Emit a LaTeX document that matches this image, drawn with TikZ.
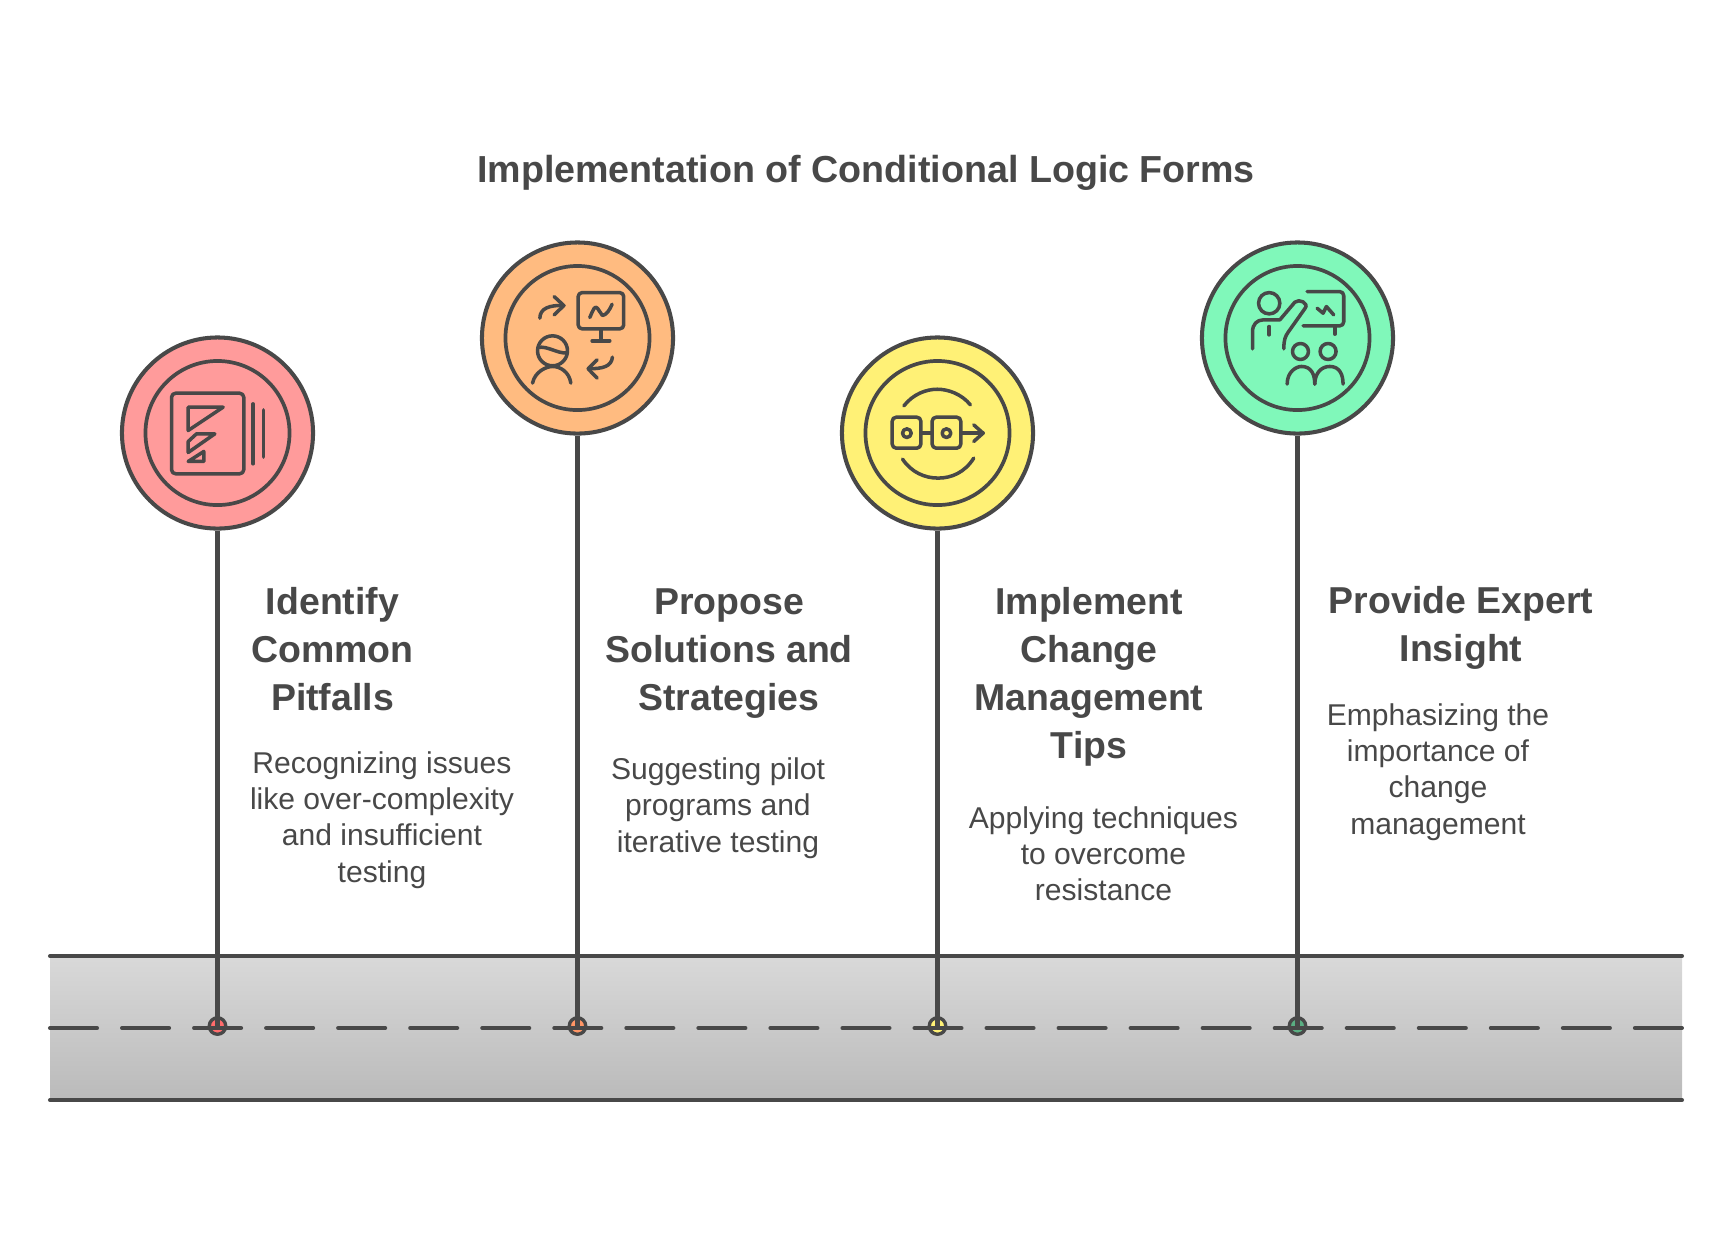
\documentclass[tikz,border=0pt]{standalone}
\usepackage{fontspec}
\setmainfont{Liberation Sans}
\usepackage{tikz}
\usetikzlibrary{shapes,positioning,fit}
\definecolor{ink}{HTML}{484848}
\definecolor{redf}{HTML}{FF9B9B}
\definecolor{orangef}{HTML}{FFBB80}
\definecolor{yellowf}{HTML}{FFF176}
\definecolor{greenf}{HTML}{80F8BA}
\tikzset{
    outerdisc/.style={circle, draw=ink, line width=1.15pt, minimum size=1.91cm, inner sep=0pt},
    innerdisc/.style={circle, draw=ink, line width=1.05pt, minimum size=1.44cm, inner sep=0pt},
    dotdisc/.style={circle, draw=ink, line width=0.95pt, minimum size=0.165cm, inner sep=0pt},
    wire/.style={draw=ink, line width=1.15pt},
    road/.style={draw=ink, line width=1.15pt, line cap=round},
    icon/.style={draw=ink, line width=1pt, line cap=round, line join=round},
    zoomed/.style={x=0.003333cm, y=-0.003333cm},
    titletext/.style={text=ink, align=center, font=\fontsize{10.7pt}{13pt}\selectfont\bfseries},
    headtext/.style={text=ink, align=center, font=\fontsize{10.65pt}{13.65pt}\selectfont\bfseries},
    bodytext/.style={text=ink, align=center, font=\fontsize{8.55pt}{10.3pt}\selectfont}
}

\begin{document}
\begin{tikzpicture}[x=0.01cm, y=-0.01cm]
        \useasboundingbox (0, 0) rectangle (1732, 1253);
        \node [titletext] (TT) at (866, 173) {Implementation of Conditional Logic Forms};
        \coordinate (LT) at (50, 956);
        \coordinate (RT) at (1682, 956);
        \coordinate (LM) at (50, 1028);
        \coordinate (RM) at (1682, 1028);
        \coordinate (LB) at (50, 1100);
        \coordinate (RB) at (1682, 1100);
        \shade [top color=black!15, bottom color=black!27] (LT) rectangle (RB);
        \node [outerdisc, fill=redf]    (CA) at (217.5, 433) {};
        \node [outerdisc, fill=orangef] (CB) at (577.5, 338) {};
        \node [outerdisc, fill=yellowf] (CC) at (937.5, 433) {};
        \node [outerdisc, fill=greenf]  (CD) at (1297.5, 338) {};
        \node [innerdisc] (IA) at (CA) {};
        \node [innerdisc] (IB) at (CB) {};
        \node [innerdisc] (IC) at (CC) {};
        \node [innerdisc] (ID) at (CD) {};
        \node [dotdisc, fill=redf!70!red]       (DA) at (217.5, 1026) {};
        \node [dotdisc, fill=orangef!80!red]    (DB) at (577.5, 1026) {};
        \node [dotdisc, fill=yellowf]           (DC) at (937.5, 1026) {};
        \node [dotdisc, fill=greenf!70!black]   (DD) at (1297.5, 1026) {};
        \draw [road] (LT) -- (RT);
        \draw [road] (LB) -- (RB);
        \draw [wire] (CA) -- (DA.center);
        \draw [wire] (CB) -- (DB.center);
        \draw [wire] (CC) -- (DC.center);
        \draw [wire] (CD) -- (DD.center);
        \draw [road, dash pattern=on 0.47cm off 0.25cm] (LM) -- (RM);
        \node [headtext] (HA) at (332.5, 649) {Identify\\Common\\Pitfalls};
        \node [headtext] (HB) at (729, 653.5) {Propose\\Solutions and\\Strategies};
        \node [headtext] (HC) at (1089, 677) {Implement\\Change\\Management\\Tips};
        \node [headtext] (HD) at (1461, 628) {Provide Expert\\Insight};
        \node [bodytext] (TA) at (382, 820) {Recognizing issues\\like over-complexity\\and insufficient\\testing};
        \node [bodytext] (TB) at (718, 808) {Suggesting pilot\\programs and\\iterative testing};
        \node [bodytext] (TC) at (1103.5, 853.5) {Applying techniques\\to overcome\\resistance};
        \node [bodytext] (TD) at (1438, 772) {Emphasizing the\\importance of\\change\\management};
        \begin{scope}[shift={(100, 320)}, zoomed]
                \draw [icon, rounded corners=0.04cm] (215, 220) rectangle (432, 462);
                \draw [icon] (265, 262) -- (370, 262) -- (265, 332) -- cycle;
                \draw [icon] (345, 342) -- (290, 342) -- (265, 365) -- (265, 398) -- cycle;
                \draw [icon] (312, 395) -- (312, 425) -- (265, 425) -- cycle;
                \draw [icon] (460, 252) -- (460, 432);
                \draw [icon] (492, 270) -- (492, 412);
        \end{scope}
        \begin{scope}[shift={(460, 225)}, zoomed]
                \draw [icon, rounded corners=0.04cm] (355, 203) rectangle (492, 312);
                \draw [icon] (423, 312) -- (423, 348);
                \draw [icon] (397, 348) -- (450, 348);
                \draw [icon] (390, 278) .. controls (400, 255) and (405, 240) .. (413, 250) -- (428, 272) .. controls (440, 270) and (450, 255) .. (457, 238);
                \draw [icon] (240, 280) .. controls (240, 250) and (270, 240) .. (312, 242);
                \draw [icon] (283, 215) -- (312, 242) -- (283, 270);
                \draw [icon] (278, 378) circle (45);
                \draw [icon] (235, 368) .. controls (262, 362) and (295, 388) .. (322, 384);
                \draw [icon] (218, 475) .. controls (225, 440) and (260, 425) .. (278, 425) .. controls (300, 425) and (328, 440) .. (333, 475);
                \draw [icon] (458, 397) .. controls (455, 425) and (430, 432) .. (385, 432);
                \draw [icon] (412, 405) -- (385, 432) -- (412, 460);
        \end{scope}
        \begin{scope}[shift={(820, 320)}, zoomed]
                \draw [icon] (252, 258) .. controls (280, 222) and (320, 208) .. (352, 208) .. controls (385, 208) and (425, 222) .. (452, 255);
                \draw [icon] (248, 418) .. controls (275, 458) and (315, 475) .. (355, 475) .. controls (395, 475) and (435, 458) .. (462, 415);
                \draw [icon, rounded corners=0.04cm] (217, 292) rectangle (303, 385);
                \draw [icon, rounded corners=0.04cm] (337, 292) rectangle (423, 385);
                \draw [icon] (261, 340) circle (13);
                \draw [icon] (380, 340) circle (13);
                \draw [icon] (303, 340) -- (337, 340);
                \draw [icon] (423, 340) -- (490, 340);
                \draw [icon] (462, 315) -- (490, 340) -- (462, 365);
        \end{scope}
        \begin{scope}[shift={(1180, 225)}, zoomed]
                \draw [icon] (268, 235) circle (32);
                \draw [icon] (218, 372) -- (218, 320) .. controls (218, 298) and (232, 285) .. (250, 285) -- (300, 285) -- (345, 232) .. controls (358, 220) and (388, 235) .. (376, 250) -- (325, 322) .. controls (316, 335) and (312, 345) .. (312, 372);
                \draw [icon] (268, 305) -- (268, 330);
                \draw [icon, rounded corners=0.04cm] (382, 200) -- (492, 200) -- (492, 303) -- (370, 303);
                \draw [icon] (465, 303) -- (465, 328);
                \draw [icon] (412, 250) -- (430, 265) -- (440, 245) -- (462, 270);
                \draw [icon] (362, 380) circle (24);
                \draw [icon] (445, 380) circle (24);
                \draw [icon] (322, 478) .. controls (322, 440) and (350, 425) .. (365, 425) .. controls (395, 425) and (405, 450) .. (405, 478);
                \draw [icon] (405, 478) .. controls (405, 445) and (425, 425) .. (450, 425) .. controls (480, 425) and (490, 450) .. (490, 478);
        \end{scope}
\end{tikzpicture}
\end{document}
